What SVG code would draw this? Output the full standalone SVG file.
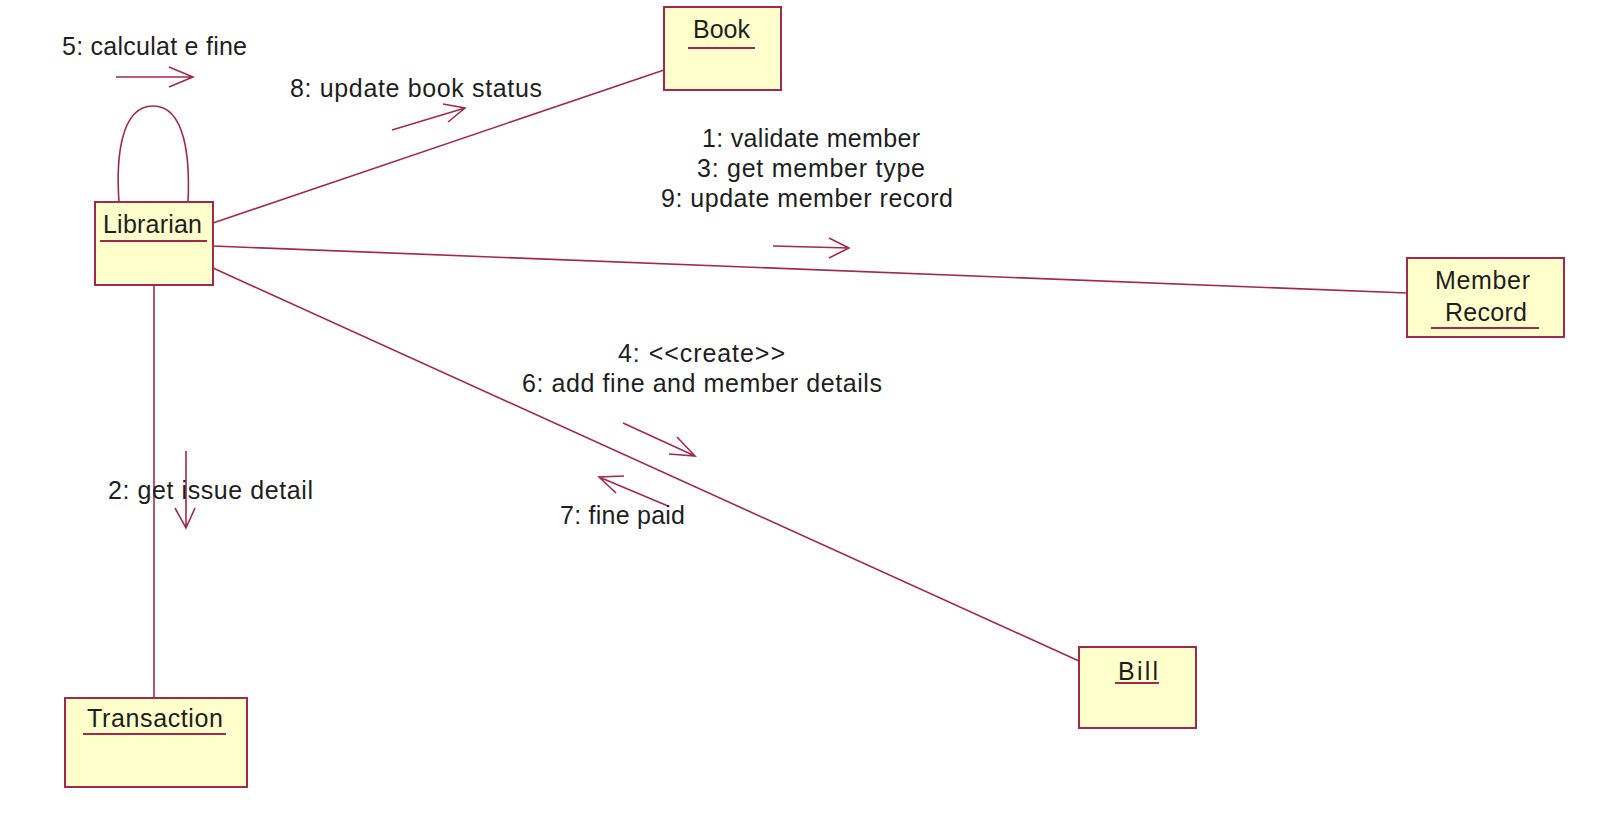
<svg xmlns="http://www.w3.org/2000/svg" width="1600" height="819" viewBox="0 0 1600 819">
<style>
.box{fill:#FFFFCC;stroke:#A3284F;stroke-width:2}
.ul{stroke:#A3284F;stroke-width:2}
.ln{stroke:#A3284F;stroke-width:1.6;fill:none}
.ar{stroke:#A3284F;stroke-width:1.6;fill:none}
text{font-family:"Liberation Sans",Arial,sans-serif;font-size:25px;fill:#1E1E1E}
</style>
<rect width="1600" height="819" fill="#FFFFFF"/>
<g id="connectors">
<path class="ln" d="M119,202 C116,160 120,106 153,106 C186,106 190,160 188,202"/>
<line class="ln" x1="213" y1="223" x2="664" y2="70"/>
<line class="ln" x1="213" y1="246" x2="1407" y2="293"/>
<line class="ln" x1="213" y1="268" x2="1079" y2="661"/>
<line class="ln" x1="154" y1="285" x2="154" y2="698"/>
</g>
<g id="messages">
<path class="ar" d="M116,77 L193,77 M169,67 L193,77 L169,87"/>
<text x="62" y="55" textLength="185" lengthAdjust="spacing">5: calculat e fine</text>
<path class="ar" d="M392,130 L465,108 M443,104 L465,108 L448,122"/>
<text x="290" y="97" textLength="252" lengthAdjust="spacing">8: update book status</text>
<path class="ar" d="M773,246 L849,248 M829,238 L849,248 L829,258"/>
<text x="702" y="147" textLength="218" lengthAdjust="spacing">1: validate member</text>
<text x="697" y="177" textLength="228" lengthAdjust="spacing">3: get member type</text>
<text x="661" y="207" textLength="292" lengthAdjust="spacing">9: update member record</text>
<path class="ar" d="M623,423 L695,456 M677,437 L695,456 L669,454"/>
<text x="618" y="362" textLength="167" lengthAdjust="spacing">4: &lt;&lt;create&gt;&gt;</text>
<text x="522" y="392" textLength="360" lengthAdjust="spacing">6: add fine and member details</text>
<path class="ar" d="M668,506 L599,477 M624,476 L599,477 L616,493"/>
<text x="560" y="524" textLength="125" lengthAdjust="spacing">7: fine paid</text>
<path class="ar" d="M186,451 L186,528 M175,508 L186,528 L195,508"/>
<text x="108" y="499" textLength="205" lengthAdjust="spacing">2: get issue detail</text>
</g>
<g id="librarian">
<rect class="box" x="95" y="202" width="118" height="83"/>
<text x="103" y="233" textLength="99" lengthAdjust="spacing">Librarian</text>
<line class="ul" x1="100" y1="241" x2="207" y2="241"/>
</g>
<g id="book">
<rect class="box" x="664" y="7" width="117" height="83"/>
<text x="693" y="38" textLength="57" lengthAdjust="spacing">Book</text>
<line class="ul" x1="688" y1="48" x2="755" y2="48"/>
</g>
<g id="member-record">
<rect class="box" x="1407" y="258" width="157" height="79"/>
<text x="1435" y="289" textLength="95" lengthAdjust="spacing">Member</text>
<text x="1445" y="321" textLength="82" lengthAdjust="spacing">Record</text>
<line class="ul" x1="1431" y1="328" x2="1539" y2="328"/>
</g>
<g id="bill">
<rect class="box" x="1079" y="647" width="117" height="81"/>
<text x="1118" y="680" textLength="40" lengthAdjust="spacing">Bill</text>
<line class="ul" x1="1115" y1="683" x2="1159" y2="683"/>
</g>
<g id="transaction">
<rect class="box" x="65" y="698" width="182" height="89"/>
<text x="87" y="727" textLength="136" lengthAdjust="spacing">Transaction</text>
<line class="ul" x1="83" y1="734" x2="226" y2="734"/>
</g>
</svg>
